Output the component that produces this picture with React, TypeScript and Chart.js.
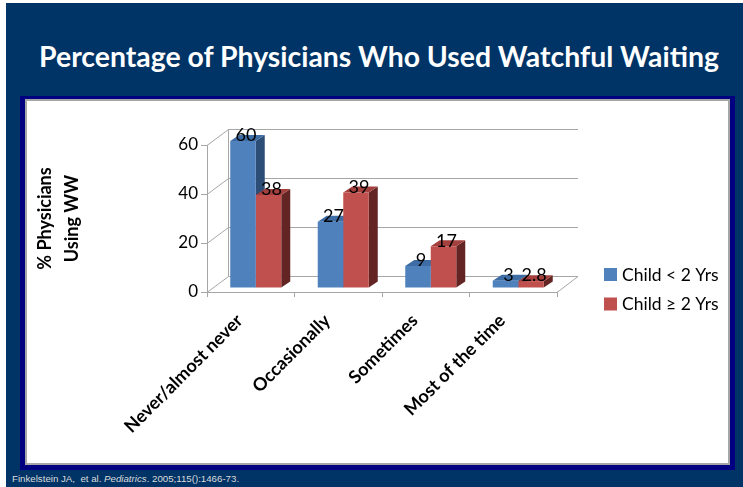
import React, { useEffect, useRef } from "react";
import { Chart, registerables } from "chart.js";

Chart.register(...registerables);

// ---- data ----
const chartTitle = "Percentage of Physicians Who Used Watchful Waiting";
const categories = ["Never/almost never", "Occasionally", "Sometimes", "Most of the time"];
const seriesNames = ["Child < 2 Yrs", "Child \u2265 2 Yrs"];
const under2Values = [60, 27, 9, 3];
const over2Values = [38, 39, 17, 2.8];
const yTicks = [0, 20, 40, 60];
const yTitle = ["% Physicians", "Using WW"];

// ---- styles ----
const frontColors = ["#4F81BD", "#C0504D"];
const sideColors = ["#2C4D75", "#632523"];
const topColors = ["#3E6CA4", "#A3403D"];
const GRID = "#A6A6A6";
const WALL_DX = 21;
const WALL_DY = -16;
const SHIFT_X = 5;
const SHIFT_Y = -4;
const BAR_DX = 9;
const BAR_DY = -6;

const threeD = {
  id: "threeD",
  beforeDatasetsDraw(chart: any) {
    const { ctx, chartArea: ca, scales } = chart;
    const ys = scales.y;
    const line = (x1: number, y1: number, x2: number, y2: number) => {
      ctx.beginPath();
      ctx.moveTo(x1, y1);
      ctx.lineTo(x2, y2);
      ctx.stroke();
    };
    ctx.save();
    ctx.strokeStyle = GRID;
    ctx.lineWidth = 1;
    const y0 = Math.round(ys.getPixelForValue(yTicks[0])) + 0.5;
    const yT = Math.round(ys.getPixelForValue(yTicks[yTicks.length - 1])) + 0.5;
    const bx = Math.round(ca.left + WALL_DX) + 0.5;
    for (const v of yTicks) {
      const py = Math.round(ys.getPixelForValue(v)) + 0.5;
      line(bx, py + WALL_DY, ca.right + WALL_DX, py + WALL_DY);
      line(ca.left, py, bx, py + WALL_DY);
    }
    line(bx, y0 + WALL_DY, bx, yT + WALL_DY);
    line(ca.right, y0, ca.right + WALL_DX, y0 + WALL_DY);
    ctx.restore();

    ctx.save();
    ctx.translate(SHIFT_X, SHIFT_Y);
    const poly = (pts: number[][]) => {
      ctx.beginPath();
      ctx.moveTo(pts[0][0], pts[0][1]);
      for (let i = 1; i < pts.length; i++) ctx.lineTo(pts[i][0], pts[i][1]);
      ctx.closePath();
      ctx.fill();
    };
    chart.data.datasets.forEach((_ds: any, di: number) => {
      const meta = chart.getDatasetMeta(di);
      meta.data.forEach((el: any) => {
        const p = el.getProps(["x", "y", "base", "width"], true);
        const l = p.x - p.width / 2;
        const r = p.x + p.width / 2;
        ctx.fillStyle = sideColors[di];
        poly([[r, p.y], [r + BAR_DX, p.y + BAR_DY], [r + BAR_DX, p.base + BAR_DY], [r, p.base]]);
        ctx.fillStyle = topColors[di];
        poly([[l, p.y], [l + BAR_DX, p.y + BAR_DY], [r + BAR_DX, p.y + BAR_DY], [r, p.y]]);
      });
    });
    // translation kept for the library's own bars; restored after datasets draw
  },
  afterDatasetsDraw(chart: any) {
    const { ctx } = chart;
    ctx.restore();
    ctx.save();
    ctx.fillStyle = "#000";
    ctx.font = "18px Lato";
    ctx.textAlign = "center";
    ctx.textBaseline = "middle";
    chart.data.datasets.forEach((ds: any, di: number) => {
      const meta = chart.getDatasetMeta(di);
      meta.data.forEach((el: any, i: number) => {
        const p = el.getProps(["x", "y"], true);
        ctx.fillText(String(ds.data[i]), p.x + SHIFT_X + 3, p.y + SHIFT_Y - 5.5);
      });
    });
    ctx.restore();
  },
  afterDraw(chart: any) {
    const { ctx, chartArea: ca } = chart;
    ctx.save();
    ctx.font = "17.5px Lato";
    ctx.textAlign = "left";
    ctx.textBaseline = "middle";
    const lx = ca.right + 47;
    const ly = 167;
    chart.data.datasets.forEach((ds: any, di: number) => {
      const y = ly + di * 29.5;
      ctx.fillStyle = frontColors[di];
      ctx.fillRect(lx, y, 13, 13);
      ctx.fillStyle = "#000";
      ctx.fillText(ds.label, lx + 18, y + 7);
    });
    ctx.restore();
  },
};

export default function App() {
  const ref = useRef<HTMLCanvasElement | null>(null);

  useEffect(() => {
    if (!ref.current) return;
    Chart.defaults.font.family = "Lato";
    const chart = new Chart(ref.current, {
      type: "bar",
      data: {
        labels: categories,
        datasets: [
          {
            label: seriesNames[0],
            data: under2Values,
            backgroundColor: frontColors[0],
            borderWidth: 0,
            categoryPercentage: 0.583,
            barPercentage: 1,
            clip: false,
          },
          {
            label: seriesNames[1],
            data: over2Values,
            backgroundColor: frontColors[1],
            borderWidth: 0,
            categoryPercentage: 0.583,
            barPercentage: 1,
            clip: false,
          },
        ],
      },
      options: {
        animation: false,
        responsive: false,
        devicePixelRatio: 1,
        layout: { padding: { top: 44, right: 171, bottom: 0, left: 0 } },
        plugins: {
          legend: { display: false },
          tooltip: { enabled: false },
          title: { display: false },
        },
        scales: {
          x: {
            ticks: {
              autoSkip: false,
              maxRotation: 45,
              minRotation: 45,
              padding: 13,
              labelOffset: -11,
              color: "#000",
              font: { family: "Lato", size: 18, weight: "bold" },
            },
            grid: {
              display: true,
              drawOnChartArea: false,
              drawTicks: true,
              tickLength: 5,
              color: GRID,
              offset: true,
            },
            border: { display: true, color: GRID },
            afterFit: (s: any) => {
              s.height = 171;
            },
          },
          y: {
            min: 0,
            max: 60,
            afterBuildTicks: (s: any) => {
              s.ticks = yTicks.map((v) => ({ value: v }));
            },
            ticks: {
              padding: 3,
              color: "#000",
              font: { family: "Lato", size: 17 },
            },
            grid: {
              display: true,
              drawOnChartArea: false,
              drawTicks: true,
              tickLength: 6,
              color: GRID,
            },
            border: { display: true, color: GRID },
            title: {
              display: true,
              text: yTitle,
              color: "#000",
              font: { family: "Lato", size: 18, weight: "bold", lineHeight: 1.5 },
              padding: { top: 4.5, bottom: 0 },
            },
            afterFit: (s: any) => {
              s.width = 180;
            },
          },
        },
      } as any,
      plugins: [threeD],
    });
    return () => chart.destroy();
  }, []);

  return (
    <div
      style={{
        position: "fixed",
        left: 0,
        top: 0,
        width: 743,
        height: 487,
        background: "#fff",
        overflow: "hidden",
      }}
    >
      <div style={{ position: "absolute", left: 6, top: 3, right: 0, bottom: 0, background: "#003366" }} />
      <div
        style={{
          position: "absolute",
          left: 0,
          width: 758,
          top: 42,
          textAlign: "center",
          color: "#fff",
          fontFamily: "Lato",
          fontWeight: 700,
          fontSize: 28.4,
          lineHeight: "28.4px",
          whiteSpace: "nowrap",
        }}
      >
        {chartTitle}
      </div>
      <div style={{ position: "absolute", left: 20, top: 96, width: 715, height: 374, background: "#000080" }} />
      <div style={{ position: "absolute", left: 25, top: 99, width: 705, height: 366, background: "#A6A6A6" }} />
      <div style={{ position: "absolute", left: 27, top: 101, width: 701, height: 362, background: "#fff" }}>
        <canvas ref={ref} width={701} height={362} style={{ display: "block" }} />
      </div>
      <div
        style={{
          position: "absolute",
          left: 12,
          top: 474,
          color: "#dcdcdc",
          fontFamily: "'Liberation Sans', Arial, sans-serif",
          fontSize: 9.7,
          lineHeight: "9.7px",
          whiteSpace: "pre",
        }}
      >
        {"Finkelstein JA,  et al. "}
        <i>Pediatrics</i>
        {". 2005;115():1466-73."}
      </div>
    </div>
  );
}
